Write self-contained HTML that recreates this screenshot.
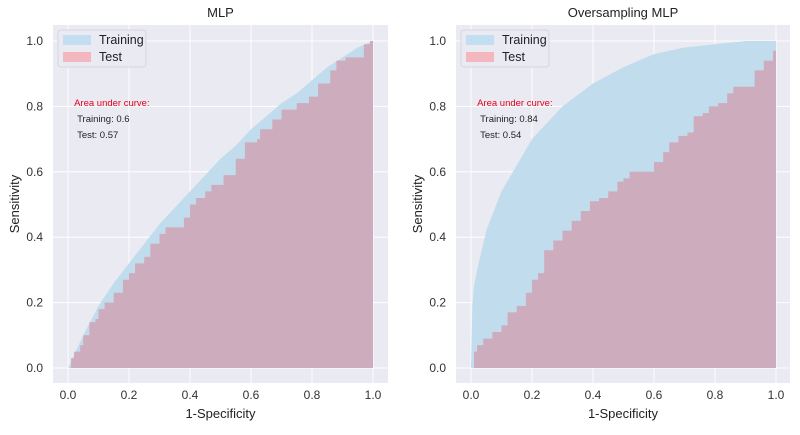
<!DOCTYPE html>
<html><head><meta charset="utf-8"><style>
body{margin:0;background:#fff;font-family:"Liberation Sans",sans-serif}
svg text{font-family:"Liberation Sans",sans-serif}
</style></head><body>
<svg id="chart" width="800" height="430" xmlns="http://www.w3.org/2000/svg"></svg>
<script>
const xTicks=[0,0.2,0.4,0.6,0.8,1.0];
const yTicks=[0,0.2,0.4,0.6,0.8,1.0];
const leftTrainX=[0,0.05,0.1,0.15,0.2,0.25,0.3,0.35,0.4,0.45,0.5,0.55,0.6,0.65,0.7,0.75,0.8,0.85,0.9,0.95,1];
const leftTrainY=[0,0.1,0.19,0.26,0.32,0.38,0.44,0.49,0.54,0.59,0.64,0.68,0.73,0.77,0.81,0.84,0.88,0.92,0.95,0.98,1];
const leftTestX=[0,0.01,0.02,0.04,0.05,0.07,0.09,0.1,0.12,0.15,0.18,0.2,0.22,0.25,0.27,0.3,0.32,0.36,0.38,0.4,0.42,0.45,0.47,0.5,0.51,0.55,0.58,0.62,0.63,0.67,0.7,0.75,0.79,0.82,0.86,0.88,0.91,0.96,0.97,0.99,1];
const leftTestY=[0,0.03,0.05,0.07,0.1,0.14,0.15,0.18,0.2,0.23,0.27,0.29,0.32,0.34,0.38,0.41,0.43,0.43,0.46,0.5,0.52,0.54,0.56,0.56,0.59,0.64,0.69,0.7,0.73,0.76,0.79,0.81,0.83,0.87,0.91,0.94,0.95,0.95,0.99,1,1];
const rightTrainX=[0,0.002,0.005,0.01,0.02,0.035,0.05,0.075,0.1,0.15,0.2,0.25,0.3,0.4,0.5,0.6,0.7,0.8,0.9,1];
const rightTrainY=[0,0.1,0.2,0.25,0.3,0.36,0.42,0.48,0.54,0.62,0.7,0.75,0.8,0.87,0.92,0.96,0.98,0.99,1,1];
const rightTestX=[0,0.01,0.02,0.04,0.07,0.1,0.12,0.15,0.18,0.2,0.22,0.24,0.27,0.3,0.33,0.36,0.39,0.42,0.45,0.48,0.5,0.52,0.58,0.6,0.63,0.65,0.68,0.71,0.73,0.76,0.78,0.81,0.84,0.86,0.91,0.93,0.96,0.99,1];
const rightTestY=[0,0.05,0.07,0.09,0.11,0.13,0.17,0.19,0.23,0.27,0.29,0.36,0.39,0.42,0.45,0.48,0.51,0.52,0.54,0.57,0.58,0.6,0.6,0.63,0.66,0.69,0.71,0.72,0.77,0.78,0.8,0.81,0.84,0.86,0.86,0.91,0.94,0.97,1];

const NS="http://www.w3.org/2000/svg";
const svg=document.getElementById('chart');
function mk(tag,attrs,parent){const e=document.createElementNS(NS,tag);for(const k in attrs)e.setAttribute(k,attrs[k]);(parent||svg).appendChild(e);return e;}

function panel(key,bx0,bx1,x0px,x1px,title,trX,trY,teX,teY,aucTr,aucTe){
  const y0px=368,y1px=41,by0=25,by1=383;
  const sx=v=>x0px+(x1px-x0px)*v, sy=v=>y0px+(y1px-y0px)*v;
  const g=mk('g',{});
  
  
  const bg=mk('rect',{x:bx0,y:by0,width:bx1-bx0,height:by1-by0,fill:'#eaeaf2'},g);
  
  
  xTicks.forEach(t=>{
    mk('line',{x1:sx(t),x2:sx(t),y1:by0,y2:by1,stroke:'#fff','stroke-width':1},g);
    const tx=mk('text',{x:sx(t),y:399,'text-anchor':'middle','font-size':12,fill:'#333'},g);
    tx.textContent=t.toFixed(1);
    
    
  });
  yTicks.forEach(t=>{
    mk('line',{x1:bx0,x2:bx1,y1:sy(t),y2:sy(t),stroke:'#fff','stroke-width':1},g);
    const tx=mk('text',{x:bx0-10,y:sy(t)+4,'text-anchor':'end','font-size':12,fill:'#333'},g);
    tx.textContent=t.toFixed(1);
    
    
  });
  let d='M'+sx(trX[0])+','+sy(0);
  trX.forEach((x,i)=>{d+=' L'+sx(x)+','+sy(trY[i]);});
  d+=' L'+sx(1)+','+sy(0)+' Z';
  const a1=mk('path',{d:d,fill:'#c1dcec'},g);
  
  
  let d2='M'+sx(teX[0])+','+sy(0)+' L'+sx(teX[0])+','+sy(teY[0]);
  for(let i=1;i<teX.length;i++){d2+=' L'+sx(teX[i])+','+sy(teY[i-1])+' L'+sx(teX[i])+','+sy(teY[i]);}
  d2+=' L'+sx(1)+','+sy(0)+' Z';
  const a2=mk('path',{d:d2,fill:'#cdacbd'},g);
  
  
  const tt=mk('text',{x:(bx0+bx1)/2,y:17,'text-anchor':'middle','font-size':13,fill:'#222'},g);
  tt.textContent=title;
  
  
  const xl=mk('text',{x:(bx0+bx1)/2,y:418,'text-anchor':'middle','font-size':13,fill:'#222'},g);
  xl.textContent='1-Specificity';
  
  
  const yl=mk('text',{x:0,y:0,'text-anchor':'middle','font-size':13,fill:'#222',transform:'translate('+(bx0-34)+','+((by0+by1)/2)+') rotate(-90)'},g);
  yl.textContent='Sensitivity';
  
  
  const lg=mk('g',{},g);
  
  
  mk('rect',{x:bx0+5,y:30,width:88,height:37,rx:3,fill:'#eaeaf2',stroke:'#d0d0d8','stroke-width':0.8},lg);
  mk('rect',{x:bx0+10,y:35,width:28,height:10,fill:'#c2def0'},lg);
  mk('rect',{x:bx0+10,y:52,width:28,height:10,fill:'#f3b7bf'},lg);
  const l1=mk('text',{x:bx0+46,y:44,'font-size':12.5,fill:'#222'},lg);l1.textContent='Training';
  
  
  const l2=mk('text',{x:bx0+46,y:61,'font-size':12.5,fill:'#222'},lg);l2.textContent='Test';
  
  
  const an=mk('text',{x:sx(0.02),y:106,'font-size':9.5,fill:'#e8001c'},g);an.textContent='Area under curve:';
  
  
  const a3=mk('text',{x:sx(0.02)+3,y:122,'font-size':9.5,fill:'#222'},g);a3.textContent='Training: '+aucTr;
  
  
  const a4=mk('text',{x:sx(0.02)+3,y:138,'font-size':9.5,fill:'#222'},g);a4.textContent='Test: '+aucTe;
  
  
}
panel('mlp',53,388,68,373,'MLP',leftTrainX,leftTrainY,leftTestX,leftTestY,'0.6','0.57');
panel('oversampling-mlp',456,790,471,776,'Oversampling MLP',rightTrainX,rightTrainY,rightTestX,rightTestY,'0.84','0.54');
</script>
</body></html>
